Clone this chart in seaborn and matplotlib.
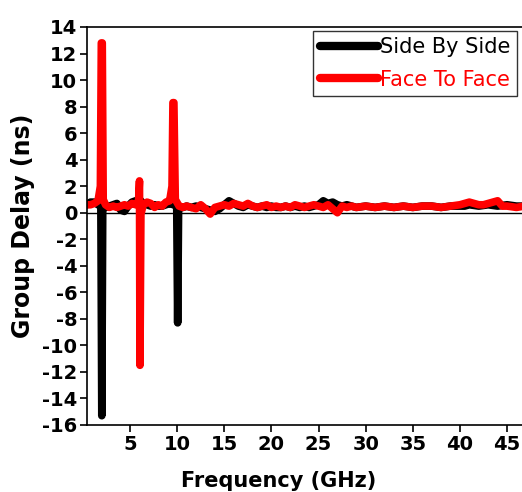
import matplotlib
matplotlib.use("Agg")
import matplotlib.pyplot as plt
import seaborn as sns
import pandas as pd

# Side By Side (black)
freq_sbs = [0.4, 0.8, 1.2, 1.6, 1.9, 2.0, 2.1, 2.4, 2.8, 3.2, 3.6, 4.0, 4.4, 4.8,
            5.2, 5.6, 6.0, 6.4, 6.8, 7.2, 7.6, 8.0, 8.4, 8.8, 9.2, 9.6, 9.95, 10.05,
            10.15, 10.6, 11.0, 11.5, 12.0, 12.5, 13.0, 13.5, 14.0, 14.5, 15.0, 15.5,
            16.0, 16.5, 17.0, 17.5, 18.0, 18.5, 19.0, 19.5, 20.0, 20.5, 21.0, 21.5,
            22.0, 22.5, 23.0, 23.5, 24.0, 24.5, 25.0, 25.5, 26.0, 26.5, 27.0, 27.5,
            28.0, 28.5, 29.0, 30.0, 31.0, 32.0, 33.0, 34.0, 35.0, 36.0, 37.0, 38.0,
            39.0, 40.0, 40.5, 41.0, 42.0, 43.0, 44.0, 45.0, 46.0, 46.8]
delay_sbs = [0.6, 0.8, 0.8, 0.6, 0.5, -15.3, 0.4, 0.4, 0.5, 0.6, 0.7, 0.2, 0.1, 0.5,
             0.8, 0.9, 1.0, 0.7, 0.6, 0.5, 0.6, 0.5, 0.5, 0.6, 0.7, 0.6, 0.5, -8.3,
             0.4, 0.4, 0.5, 0.4, 0.5, 0.4, 0.3, 0.2, 0.1, 0.3, 0.6, 0.9, 0.7, 0.5,
             0.4, 0.6, 0.5, 0.4, 0.5, 0.4, 0.5, 0.4, 0.4, 0.5, 0.4, 0.5, 0.4, 0.5,
             0.4, 0.5, 0.6, 0.9, 0.7, 0.8, 0.6, 0.5, 0.6, 0.5, 0.4, 0.5, 0.4, 0.5,
             0.4, 0.5, 0.4, 0.5, 0.5, 0.4, 0.5, 0.5, 0.5, 0.6, 0.5, 0.6, 0.5, 0.6,
             0.5, 0.5]

# Face To Face (red)
freq_ftf = [0.4, 0.8, 1.2, 1.6, 1.85, 1.95, 2.05, 2.15, 2.4, 2.8, 3.2, 3.6, 4.0,
            4.4, 4.8, 5.2, 5.6, 5.9, 6.0, 6.05, 6.15, 6.4, 6.8, 7.2, 7.6, 8.0, 8.4,
            8.8, 9.2, 9.45, 9.55, 9.65, 9.8, 10.2, 10.6, 11.0, 11.5, 12.0, 12.5,
            13.0, 13.5, 14.0, 14.5, 15.0, 15.5, 16.0, 16.5, 17.0, 17.5, 18.0, 18.5,
            19.0, 19.5, 20.0, 20.5, 21.0, 21.5, 22.0, 22.5, 23.0, 23.5, 24.0, 24.5,
            25.0, 25.5, 26.0, 26.5, 27.0, 27.5, 28.0, 28.5, 29.0, 30.0, 31.0, 32.0,
            33.0, 34.0, 35.0, 36.0, 37.0, 38.0, 39.0, 40.0, 41.0, 41.5, 42.0, 42.5,
            43.0, 43.5, 44.0, 44.5, 45.0, 46.0, 46.8]
delay_ftf = [0.6, 0.6, 0.7, 0.9, 2.0, 12.8, 12.8, 1.0, 0.6, 0.4, 0.5, 0.4, 0.5,
             0.6, 0.5, 0.7, 0.6, 0.9, 2.4, -11.5, -0.1, 0.6, 0.8, 0.7, 0.4, 0.6, 0.5,
             0.8, 0.9, 2.0, 8.3, 8.3, 1.0, 0.5, 0.4, 0.5, 0.4, 0.3, 0.6, 0.3, -0.1,
             0.4, 0.5, 0.6, 0.5, 0.7, 0.6, 0.5, 0.7, 0.5, 0.4, 0.5, 0.6, 0.4, 0.5,
             0.4, 0.5, 0.4, 0.6, 0.5, 0.4, 0.5, 0.6, 0.5, 0.4, 0.6, 0.3, 0.0, 0.5,
             0.4, 0.5, 0.4, 0.5, 0.4, 0.5, 0.4, 0.5, 0.4, 0.5, 0.5, 0.4, 0.5, 0.6,
             0.8, 0.7, 0.6, 0.6, 0.7, 0.8, 0.9, 0.5, 0.5, 0.4, 0.5]

x_ticks = [5, 10, 15, 20, 25, 30, 35, 40, 45]
y_ticks = list(range(-16, 15, 2))

df = pd.concat([
    pd.DataFrame({"Frequency": freq_sbs, "Delay": delay_sbs, "Series": "Side By Side"}),
    pd.DataFrame({"Frequency": freq_ftf, "Delay": delay_ftf, "Series": "Face To Face"}),
])

sns.set_style("ticks")
plt.rcParams["font.family"] = ["DejaVu Sans"]
plt.rcParams["axes.unicode_minus"] = False
plt.rcParams["text.color"] = "black"
plt.rcParams["axes.labelcolor"] = "black"
plt.rcParams["xtick.color"] = "black"
plt.rcParams["ytick.color"] = "black"
plt.rcParams["axes.edgecolor"] = "black"

fig = plt.figure(figsize=(5.22, 4.92), dpi=100)
ax = fig.add_axes([87 / 522, 1 - 425 / 492, 437 / 522, 398 / 492])

ax.axhline(0, color="black", lw=1, zorder=1)
sns.lineplot(data=df, x="Frequency", y="Delay", hue="Series",
             palette={"Side By Side": "black", "Face To Face": "red"},
             estimator=None, sort=False, lw=5.5, ax=ax, legend=True,
             solid_capstyle="round", solid_joinstyle="round")

ax.set_xlim(0.43, 46.8)
ax.set_ylim(-16, 14)
ax.set_xticks(x_ticks)
ax.set_yticks(y_ticks)
ax.tick_params(axis="both", direction="out", length=5, width=1.2, labelsize=14, pad=2,
               colors="black")
for lab in ax.get_xticklabels() + ax.get_yticklabels():
    lab.set_fontweight("bold")
for s in ax.spines.values():
    s.set_linewidth(1.2)
    s.set_color("black")
    s.set_visible(True)

ax.set_xlabel("Frequency (GHz)", fontsize=15, fontweight="bold", color="black")
ax.set_ylabel("Group Delay (ns)", fontsize=17, fontweight="bold", color="black")
ax.xaxis.set_label_coords(192 / 437, -0.115)
ax.yaxis.set_label_coords(-0.119, 0.5)

handles, labels = ax.get_legend_handles_labels()
leg = ax.legend(handles, labels, loc="upper left", bbox_to_anchor=(0.518, 0.99),
                fontsize=15, frameon=True, fancybox=False, edgecolor="black",
                handlelength=2.8, handletextpad=0.1, borderpad=0.3,
                labelspacing=0.6, borderaxespad=0)
leg.get_frame().set_linewidth(1.0)
for line in leg.get_lines():
    line.set_linewidth(6)
for txt, c in zip(leg.get_texts(), ["black", "red"]):
    txt.set_color(c)

fig.savefig("out.png", dpi=100)
